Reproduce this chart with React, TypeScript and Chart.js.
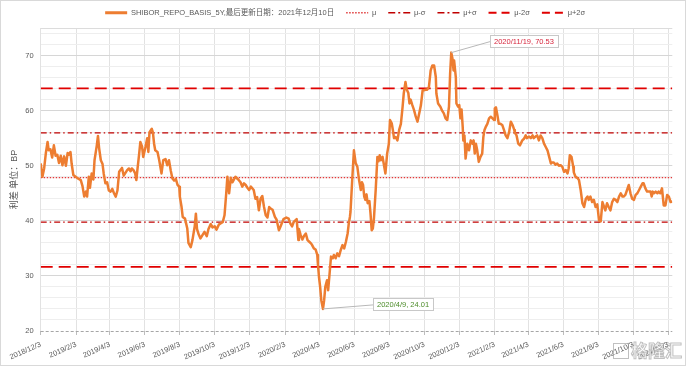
import { useEffect, useRef } from 'react';
import { Chart, registerables } from 'chart.js';

Chart.register(...registerables);

const FONT = "'Liberation Sans', 'Noto Sans CJK SC', sans-serif";

const seriesName = 'SHIBOR_REPO_BASIS_5Y,最后更新日期：2021年12月10日';
const yAxisTitle = '利差 单位：BP';

const dates: string[] = [
  '2018/12/3','2018/12/6','2018/12/9','2018/12/12','2018/12/15','2018/12/17','2018/12/20','2018/12/23','2018/12/26','2018/12/29',
  '2019/1/1','2019/1/4','2019/1/7','2019/1/10','2019/1/13','2019/1/16','2019/1/19','2019/1/21','2019/1/24','2019/1/26','2019/1/29',
  '2019/2/2','2019/2/6','2019/2/11','2019/2/14','2019/2/17','2019/2/20','2019/2/22','2019/2/25','2019/2/27',
  '2019/3/2','2019/3/5','2019/3/7','2019/3/11','2019/3/13','2019/3/15','2019/3/18','2019/3/21','2019/3/23','2019/3/26','2019/3/29',
  '2019/4/1','2019/4/4','2019/4/7','2019/4/10','2019/4/13','2019/4/16','2019/4/19','2019/4/24','2019/4/27',
  '2019/5/3','2019/5/6','2019/5/9','2019/5/11','2019/5/14','2019/5/17','2019/5/19','2019/5/21','2019/5/24','2019/5/26','2019/5/29','2019/5/31',
  '2019/6/4','2019/6/7','2019/6/9','2019/6/11','2019/6/15','2019/6/17','2019/6/19','2019/6/21','2019/6/25','2019/6/28',
  '2019/7/2','2019/7/5','2019/7/9','2019/7/12','2019/7/15','2019/7/18','2019/7/21','2019/7/24','2019/7/27','2019/7/30',
  '2019/8/2','2019/8/3','2019/8/6','2019/8/8','2019/8/12','2019/8/16','2019/8/18','2019/8/22','2019/8/25','2019/8/29','2019/8/31',
  '2019/9/2','2019/9/5','2019/9/8','2019/9/12','2019/9/15','2019/9/19','2019/9/22','2019/9/26','2019/9/29',
  '2019/10/3','2019/10/6','2019/10/10','2019/10/13','2019/10/17','2019/10/20','2019/10/23','2019/10/25','2019/10/28','2019/10/31',
  '2019/11/3','2019/11/8','2019/11/13','2019/11/17','2019/11/20','2019/11/23','2019/11/26','2019/11/29',
  '2019/12/2','2019/12/5','2019/12/10','2019/12/13','2019/12/16','2019/12/19','2019/12/22','2019/12/25','2019/12/28','2019/12/31',
  '2020/1/3','2020/1/6','2020/1/9','2020/1/12','2020/1/16','2020/1/19','2020/1/23','2020/1/26','2020/1/29','2020/1/31',
  '2020/2/5','2020/2/9','2020/2/12','2020/2/15','2020/2/18','2020/2/23','2020/2/26','2020/2/27',
  '2020/3/1','2020/3/4','2020/3/7','2020/3/10','2020/3/13','2020/3/16','2020/3/19','2020/3/21','2020/3/24','2020/3/27','2020/3/30','2020/3/31',
  '2020/4/2','2020/4/4','2020/4/6','2020/4/9','2020/4/11','2020/4/13','2020/4/16','2020/4/18','2020/4/20','2020/4/23','2020/4/26','2020/4/28',
  '2020/5/1','2020/5/4','2020/5/7','2020/5/10','2020/5/13','2020/5/16','2020/5/19','2020/5/22','2020/5/24','2020/5/26','2020/5/27','2020/5/30',
  '2020/6/2','2020/6/5','2020/6/8','2020/6/11','2020/6/14','2020/6/16','2020/6/18','2020/6/20','2020/6/22','2020/6/24','2020/6/26','2020/6/29',
  '2020/7/1','2020/7/3','2020/7/5','2020/7/7','2020/7/10','2020/7/13','2020/7/15','2020/7/17','2020/7/19','2020/7/22','2020/7/24','2020/7/27','2020/7/30',
  '2020/8/2','2020/8/4','2020/8/7','2020/8/9','2020/8/11','2020/8/14','2020/8/17','2020/8/20','2020/8/23','2020/8/26','2020/8/28','2020/8/31',
  '2020/9/2','2020/9/5','2020/9/7','2020/9/9','2020/9/12','2020/9/15','2020/9/18','2020/9/21','2020/9/23','2020/9/27','2020/9/30',
  '2020/10/2','2020/10/5','2020/10/8','2020/10/11','2020/10/14','2020/10/17','2020/10/20','2020/10/23','2020/10/24','2020/10/27','2020/10/31',
  '2020/11/3','2020/11/6','2020/11/9','2020/11/12','2020/11/15','2020/11/17','2020/11/19','2020/11/21','2020/11/23','2020/11/24','2020/11/27','2020/11/28',
  '2020/12/1','2020/12/3','2020/12/5','2020/12/7','2020/12/9','2020/12/10','2020/12/12','2020/12/14','2020/12/17','2020/12/20','2020/12/23','2020/12/26','2020/12/28','2020/12/30',
  '2021/1/1','2021/1/3','2021/1/6','2021/1/9','2021/1/12','2021/1/14','2021/1/16','2021/1/18','2021/1/21','2021/1/24','2021/1/27','2021/1/30',
  '2021/2/2','2021/2/3','2021/2/5','2021/2/8','2021/2/10','2021/2/13','2021/2/16','2021/2/19','2021/2/22','2021/2/25','2021/2/28',
  '2021/3/3','2021/3/6','2021/3/9','2021/3/10','2021/3/13','2021/3/16','2021/3/19','2021/3/23','2021/3/26','2021/3/29','2021/3/31',
  '2021/4/4','2021/4/7','2021/4/10','2021/4/12','2021/4/15','2021/4/18','2021/4/21','2021/4/24','2021/4/27','2021/4/30',
  '2021/5/3','2021/5/6','2021/5/9','2021/5/12','2021/5/14','2021/5/17','2021/5/20','2021/5/23','2021/5/26','2021/5/29',
  '2021/6/1','2021/6/4','2021/6/7','2021/6/10','2021/6/12','2021/6/14','2021/6/17','2021/6/20','2021/6/21','2021/6/24','2021/6/27','2021/6/30',
  '2021/7/3','2021/7/6','2021/7/9','2021/7/12','2021/7/15','2021/7/17','2021/7/20','2021/7/23','2021/7/26','2021/7/29',
  '2021/8/1','2021/8/4','2021/8/7','2021/8/10','2021/8/12','2021/8/15','2021/8/18','2021/8/21','2021/8/24','2021/8/27','2021/8/30',
  '2021/9/2','2021/9/5','2021/9/8','2021/9/11','2021/9/14','2021/9/16','2021/9/19','2021/9/22','2021/9/25','2021/9/28',
  '2021/10/1','2021/10/4','2021/10/7','2021/10/10','2021/10/13','2021/10/16','2021/10/19','2021/10/21','2021/10/24','2021/10/27','2021/10/30',
  '2021/11/2','2021/11/4','2021/11/6','2021/11/8','2021/11/11','2021/11/14','2021/11/16','2021/11/19','2021/11/22','2021/11/25','2021/11/28',
  '2021/12/1','2021/12/4','2021/12/7','2021/12/10',
];

const values: number[] = [
  50.4,48,49.5,52.3,54.3,52.8,53,51.5,53.7,51.8,
  52,50.5,51.8,50.1,51.7,50,52.3,52,52.5,50.4,48.3,
  48,47.7,47.4,46.3,44.4,45.3,44.4,48,46,
  48.6,47.5,51,53.7,55.4,53.2,51,50.3,48.6,46.8,47,
  45.5,45.3,45.8,45,44.4,45.5,48.9,49.6,48.2,
  49.2,49.5,49,49.5,49.2,48.6,47.4,49.4,52.2,54.3,53.5,51.6,
  53.4,55,52.5,56.1,56.7,56,54,52.8,52.5,51,
  48.6,51,51.2,50.1,51,49.2,47.7,47.3,47.6,46.5,
  46.2,44.4,42.5,40.7,40.4,38.6,36,35.2,36.5,39,41.3,
  38.5,37.5,36.8,37.5,38,37.2,38.5,39.4,38.8,
  39,38.4,39.3,39.5,39.8,41,45,48,45,47.8,
  47,48,47.5,47,46.2,46.8,46.5,46,
  45.6,46.2,45.6,44,44.3,41.9,44,44.5,42.5,41,
  40.6,42.5,42.2,42,40.7,40.2,38.3,39,39.8,40.3,
  40.6,40.4,39.5,39,39.8,40.3,36.5,38.5,
  37.4,36.6,37.3,37.7,36.5,36.2,35.9,35.6,35,34.8,33.8,32.3,
  29.8,28,25.6,24.01,25.6,28,29.2,27.4,29.8,33.5,33.2,33.8,
  33.2,34.1,33.6,34.7,35.6,35,36.2,37.7,39.5,40.7,41.6,47.4,
  52.8,50.5,49.8,47.4,45.6,47,46.5,44.4,43.8,44.8,43.2,43.6,
  41.3,38.3,38.6,40.5,45.6,51.6,50.8,51.9,51,51.6,50.4,48.6,52.2,
  54,58.3,57.7,56.5,55,55.2,54.6,56.5,57.6,60.7,63.1,65.2,
  63.9,63.2,61.3,62,61,60.1,58.9,58,59,61,63.7,
  63.7,63.8,63.8,64.3,67.3,68.2,68.2,66.1,63.1,61.3,60.7,
  60,59.5,58.6,58.3,60.7,66.7,70.53,69.5,67.3,69.1,66,61.3,
  60.7,61,58.6,60.2,57,54.6,55.5,51.3,54,52.8,54.6,54,54.6,52.2,
  54,53,50.7,51.6,52.2,55.2,56.5,57,57.6,58.6,58.9,58.6,
  58.3,60.4,60.6,58.9,57.6,57.6,57.4,56.5,55.5,55,56.1,
  58,57.4,56.5,56,55.5,54,53.7,54.6,54.9,55.5,55,
  55.3,55,55.5,55,55.3,55.5,54.6,55.5,55,54,
  53.4,52.8,51.6,50.4,50.6,50.6,50.2,50.4,50,50.1,
  49.8,48.9,49.2,48.6,49.5,51.9,51.6,49.8,48.8,48,47.8,47.4,
  45.6,43.2,42.5,44,44.4,43.8,44.4,43.4,43.8,42.5,
  43,40.1,39.9,43.4,42.8,41.9,43.2,42.5,41.9,43.4,44,
  43.8,43.4,44.4,45,44.4,44.4,44.7,45.6,46.5,45,
  44,43.8,44.7,45,45.6,46.2,46.8,46.8,45.9,45.3,45.3,
  45.3,44.4,45.3,45,45.3,45,45.3,45,45.9,42.8,42.8,
  44.7,44.4,43.4,43.5,
];

const xTickLabels: string[] = [
  '2018/12/3','2019/2/3','2019/4/3','2019/6/3','2019/8/3','2019/10/3','2019/12/3',
  '2020/2/3','2020/4/3','2020/6/3','2020/8/3','2020/10/3','2020/12/3',
  '2021/2/3','2021/4/3','2021/6/3','2021/8/3','2021/10/3','2021/12/3',
];
const axisStart = '2018/12/3';
const axisEnd = '2021/12/10';

const yMin = 20;
const yMax = 75;
const yGridValues: number[] = [20,22,24,26,28,30,32,34,36,38,40,42,44,46,48,50,52,54,56,58,60,62,64,66,68,70,72,74];
const yLabelValues: number[] = [20,30,40,50,60,70];

const mu = 47.85;
const sigma = 8.1;
const bandNames: string[] = ['μ', 'μ-σ', 'μ+σ', 'μ-2σ', 'μ+2σ'];
const bandValues: number[] = [mu, mu - sigma, mu + sigma, mu - 2 * sigma, mu + 2 * sigma];

const calloutDates: string[] = ['2020/11/19', '2020/4/9'];
const calloutValues: number[] = [70.53, 24.01];

// styles (kept apart from the data)
const bandStyles = [
  { color: '#e03a3a', width: 1.3, dash: [1.5, 1.5] },
  { color: '#c00000', width: 1.3, dash: [6, 3, 1.5, 3] },
  { color: '#c00000', width: 1.3, dash: [6, 3, 1.5, 3] },
  { color: '#e00000', width: 1.8, dash: [12, 6] },
  { color: '#e00000', width: 1.8, dash: [12, 6] },
];
const legendDash = [
  [],
  [1.5, 1.5],
  [7, 3, 2, 3],
  [7, 3, 2, 3],
  [8, 5],
  [8, 5],
];
const calloutStyles = [
  { color: '#d7263d', dx: 39, dy: -12 },
  { color: '#4d8c2a', dx: 50, dy: -5 },
];
const LEGEND_H = 28;
const LEGEND_DX = 9;
const LEGEND_DY = -3;

const BASE = Date.UTC(2018, 11, 3);
function toDay(s: string): number {
  const [y, m, d] = s.split('/').map(Number);
  return (Date.UTC(y, m - 1, d) - BASE) / 86400000;
}

const xTickDays = xTickLabels.map(toDay);

const decor = {
  id: 'decor',
  beforeInit(chart: any) {
    const lg = chart.legend;
    if (!lg) return;
    const fit = lg.fit;
    lg.fit = function () {
      fit.call(this);
      this.height = LEGEND_H;
    };
    const draw = lg.draw;
    lg.draw = function (...args: any[]) {
      const c = this.ctx;
      c.save();
      c.translate(LEGEND_DX, LEGEND_DY);
      draw.apply(this, args);
      c.restore();
    };
  },
  beforeDatasetsDraw(chart: any) {
    const { ctx, chartArea: a, scales } = chart;
    const y = scales.y;
    ctx.save();
    ctx.lineWidth = 1;
    ctx.strokeStyle = '#dcdcdc';
    const yt = Math.round(a.top) + 0.5;
    ctx.beginPath();
    ctx.moveTo(a.left, yt);
    ctx.lineTo(a.right, yt);
    ctx.stroke();
    const yb = Math.round(y.getPixelForValue(yMin)) + 0.5;
    ctx.strokeStyle = '#a6a6a6';
    ctx.setLineDash([3, 2]);
    ctx.beginPath();
    ctx.moveTo(a.left, yb);
    ctx.lineTo(a.right, yb);
    ctx.stroke();
    ctx.restore();
  },
  afterDatasetsDraw(chart: any) {
    const { ctx, scales } = chart;
    const x = scales.x;
    const y = scales.y;
    ctx.save();
    ctx.font = `7.5px ${FONT}`;
    calloutDates.forEach((d, i) => {
      const st = calloutStyles[i];
      const px = x.getPixelForValue(toDay(d));
      const py = y.getPixelForValue(calloutValues[i]);
      const text = `${d}, ${calloutValues[i]}`;
      const w = Math.round(ctx.measureText(text).width + 8);
      const h = 12;
      const bx = Math.round(px + st.dx);
      const cy = py + st.dy;
      const by = Math.round(cy - h / 2);
      ctx.strokeStyle = '#b8b8b8';
      ctx.lineWidth = 1;
      ctx.beginPath();
      ctx.moveTo(px, py);
      ctx.lineTo(bx, cy + 1);
      ctx.stroke();
      ctx.fillStyle = '#ffffff';
      ctx.fillRect(bx, by, w, h);
      ctx.strokeStyle = '#c8c8c8';
      ctx.strokeRect(bx + 0.5, by + 0.5, w, h);
      ctx.fillStyle = st.color;
      ctx.textBaseline = 'middle';
      ctx.textAlign = 'left';
      ctx.fillText(text, bx + 4, by + h / 2 + 0.5);
    });
    ctx.restore();
  },
  afterDraw(chart: any) {
    const { ctx, width, height } = chart;
    ctx.save();
    ctx.strokeStyle = '#d9d9d9';
    ctx.lineWidth = 1;
    ctx.strokeRect(0.5, 0.5, width - 1, height - 1);
    // watermark
    ctx.font = `bold 17px 'Noto Sans CJK SC', sans-serif`;
    ctx.textBaseline = 'middle';
    ctx.textAlign = 'left';
    ctx.lineWidth = 1;
    ctx.strokeStyle = 'rgba(140,140,140,0.55)';
    ctx.fillStyle = 'rgba(255,255,255,0.75)';
    ctx.fillText('格隆汇', 631, 351);
    ctx.strokeText('格隆汇', 631, 351);
    ctx.strokeRect(613.5, 343.5, 15, 15);
    ctx.restore();
  },
};

export default function App() {
  const ref = useRef<HTMLCanvasElement | null>(null);

  useEffect(() => {
    document.body.style.margin = '0';
    const canvas = ref.current;
    if (!canvas) return;

    const xMinDay = toDay(axisStart);
    const xMaxDay = toDay(axisEnd);

    const main = {
      label: seriesName,
      data: dates.map((d, i) => ({ x: toDay(d), y: values[i] })),
      borderColor: '#ED7D31',
      backgroundColor: '#ED7D31',
      borderWidth: 2.5,
      pointRadius: 0,
      pointStyle: 'line',
      tension: 0,
      borderJoinStyle: 'round',
    };
    const bands = bandNames.map((name, i) => ({
      label: name,
      data: [
        { x: xMinDay, y: bandValues[i] },
        { x: xMaxDay, y: bandValues[i] },
      ],
      borderColor: bandStyles[i].color,
      backgroundColor: bandStyles[i].color,
      borderWidth: bandStyles[i].width,
      borderDash: bandStyles[i].dash,
      pointRadius: 0,
      pointStyle: 'line',
    }));

    const chart = new Chart(canvas, {
      type: 'line',
      data: { datasets: [main, ...bands] as any },
      options: {
        animation: false,
        responsive: false,
        devicePixelRatio: 1,
        parsing: false as any,
        layout: { padding: { left: 0, right: 13.7, top: 0, bottom: 0 } },
        plugins: {
          tooltip: { enabled: false },
          legend: {
            display: true,
            position: 'top',
            labels: {
              usePointStyle: true,
              pointStyleWidth: 22,
              boxHeight: 7.5,
              padding: 12,
              color: '#595959',
              font: { size: 7.5, family: FONT },
              generateLabels: (ch: any) =>
                ch.data.datasets.map((ds: any, i: number) => ({
                  text: ds.label,
                  fillStyle: ds.borderColor,
                  strokeStyle: ds.borderColor,
                  lineWidth: i === 0 ? 3 : Math.max(ds.borderWidth, 1.5),
                  lineDash: legendDash[i],
                  lineCap: 'butt',
                  pointStyle: 'line',
                  fontColor: '#595959',
                  hidden: false,
                  datasetIndex: i,
                })),
            },
          },
        },
        scales: {
          x: {
            type: 'linear',
            min: xMinDay,
            max: xMaxDay,
            afterBuildTicks: (s: any) => {
              s.ticks = xTickDays.map((v) => ({ value: v }));
            },
            afterFit: (s: any) => {
              s.height = 35;
            },
            ticks: {
              autoSkip: false,
              minRotation: 24,
              maxRotation: 24,
              padding: 5,
              color: '#595959',
              font: { size: 7.5, family: FONT },
              callback: (v: any) => {
                const i = xTickDays.indexOf(Number(v));
                return i >= 0 ? xTickLabels[i] : '';
              },
            },
            grid: {
              color: '#e2e2e2',
              lineWidth: 1,
              drawTicks: true,
              tickLength: 4,
              tickColor: '#bdbdbd',
            },
            border: { display: false },
          },
          y: {
            type: 'linear',
            min: yMin,
            max: yMax,
            afterBuildTicks: (s: any) => {
              s.ticks = yGridValues.map((v) => ({ value: v }));
            },
            afterFit: (s: any) => {
              s.width = 40.7;
            },
            ticks: {
              autoSkip: false,
              padding: 7,
              color: '#595959',
              font: { size: 7.5, family: FONT },
              callback: (v: any) => (yLabelValues.includes(Number(v)) ? String(v) : ''),
            },
            grid: {
              drawTicks: false,
              lineWidth: 1,
              color: (c: any) => {
                const v = c.tick ? c.tick.value : 0;
                if (v === yMin) return 'rgba(0,0,0,0)';
                return v % 10 === 0 ? '#d6d6d6' : '#eeeeee';
              },
            },
            border: { display: false },
            title: {
              display: true,
              text: yAxisTitle,
              color: '#595959',
              font: { size: 9, family: FONT },
              padding: { top: 9.5, bottom: 0 },
            },
          },
        },
      },
      plugins: [decor as any],
    });

    return () => {
      chart.destroy();
    };
  }, []);

  return (
    <div style={{ width: 686, height: 366, background: '#fff' }}>
      <canvas ref={ref} width={686} height={366} style={{ display: 'block', width: 686, height: 366 }} />
    </div>
  );
}
